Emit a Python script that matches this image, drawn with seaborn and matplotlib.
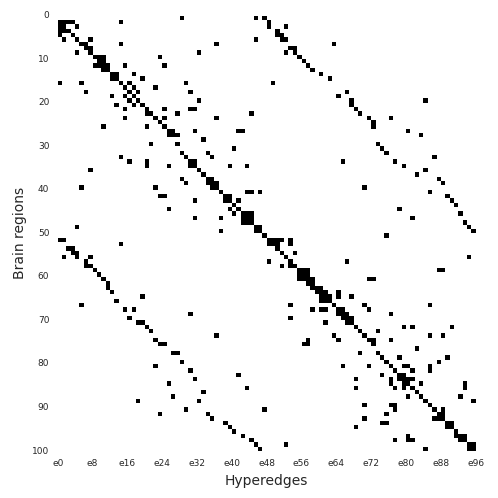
import numpy as np
import seaborn as sns
import matplotlib
matplotlib.use("Agg")
import matplotlib.pyplot as plt

# hyperedges touched by each brain region, ten regions per list
regions_00 = [[28, 45, 47], [0, 1, 2, 3, 14, 48], [0, 1, 4, 48, 52], [0, 1, 2, 50], [0, 3, 50, 51],
              [1, 4, 7, 45, 51, 52], [5, 6, 14, 36, 63], [6, 7, 53, 54], [4, 7, 32, 52, 54], [8, 9, 10, 23, 55]]
regions_10 = [[9, 10, 56], [8, 9, 10, 11, 15, 24, 57], [10, 11, 58], [12, 13, 17, 60], [12, 13, 19, 62],
              [0, 5, 14, 16, 29, 49], [15, 17, 22], [6, 16, 18, 30, 66], [12, 15, 17, 64], [16, 18, 32, 67, 84]]
regions_20 = [[13, 17, 19, 67], [15, 20, 24, 30, 31, 68], [20, 21, 27, 44, 69], [15, 22, 24, 36, 71, 76], [23, 72],
              [10, 20, 24, 72], [25, 26, 31, 41, 42, 80], [25, 26, 27, 83], [33], [21, 27, 73]]
regions_30 = [[40, 74], [28, 34, 75], [14, 29, 35, 86], [16, 20, 30, 31, 65, 77], [20, 25, 30, 31, 39, 43, 79],
              [7, 32, 84], [33, 82], [28, 34, 35, 87], [29, 34, 35, 36, 88], [5, 22, 35, 36, 70]]
regions_40 = [[37, 43, 44, 46, 85], [23, 24, 38, 39, 89], [31, 38, 39, 41, 90], [40, 91], [25, 39, 41, 78],
              [40, 42, 43, 44, 92], [31, 37, 42, 43, 44, 81], [42, 43, 44, 93], [4, 45, 46, 94], [37, 45, 46, 95]]
regions_50 = [[47, 75], [0, 1, 48, 49, 50, 51, 53], [14, 48, 49, 50, 53], [2, 3, 50], [3, 4, 51, 54],
              [1, 4, 7, 52, 94], [6, 48, 53, 66], [6, 7, 51, 53, 54], [8, 55, 56, 57, 87, 88], [9, 55, 56, 57]]
regions_60 = [[10, 55, 56, 57, 58, 71, 72], [11, 57, 58], [11, 58, 59, 60], [12, 59, 60, 61, 64], [19, 60, 61, 62, 64, 67],
              [13, 60, 61, 62], [5, 53, 63, 70, 85], [15, 17, 58, 60, 61, 64, 65, 71], [30, 64, 65, 66, 76], [16, 53, 65, 66, 67]]
regions_70 = [[18, 19, 61, 66, 67], [20, 68, 79, 81, 90], [21, 69, 73], [36, 63, 70, 85, 88], [22, 57, 64, 71, 72, 76],
              [23, 24, 56, 57, 72], [82], [26, 27, 69, 73], [74, 78, 89], [28, 75, 87]]
regions_80 = [[22, 65, 71, 76, 79, 80, 85], [30, 77, 81, 85], [41, 74, 78, 79], [31, 68, 76, 78, 79, 80, 81], [25, 76, 79, 80, 83, 93],
              [43, 68, 77, 79, 81, 93], [33, 82], [26, 80, 83, 92], [18, 32, 84, 95], [70, 76, 77, 85]]
regions_90 = [[29, 47, 77, 86, 88], [23, 34, 75, 87, 88], [35, 70, 86, 87, 88], [38, 74, 75, 89, 90], [39, 68, 89, 90],
              [40, 91], [42, 80, 91, 92, 93], [44, 77, 80, 81, 92, 93], [45, 52, 94, 95], [46, 84, 94, 95]]

all_regions = (regions_00 + regions_10 + regions_20 + regions_30 + regions_40
               + regions_50 + regions_60 + regions_70 + regions_80 + regions_90)

n_edges = 96
edge_ticks = list(range(0, 97, 8))
edge_labels = [f"e{i}" for i in edge_ticks]
region_ticks = list(range(0, 101, 10))

# incidence matrix
matrix = np.zeros((len(all_regions), n_edges))
for i, cols in enumerate(all_regions):
    matrix[i, cols] = 1

sns.set_theme(style="white")
fig = plt.figure(figsize=(4.98, 4.98), dpi=100)
ax = fig.add_axes([57.7 / 498, 47 / 498, 418 / 498, 435.5 / 498])
sns.heatmap(matrix, cmap=["white", "black"], cbar=False, ax=ax, vmin=0, vmax=1)

ax.set_xticks(edge_ticks)
ax.set_xticklabels(edge_labels, rotation=0, fontsize=6.5)
ax.set_yticks(region_ticks)
ax.set_yticklabels(region_ticks, rotation=0, fontsize=6.5)
ax.tick_params(length=0, pad=6)
ax.set_xlabel("Hyperedges", fontsize=10, labelpad=4)
ax.set_ylabel("Brain regions", fontsize=10, labelpad=4)

fig.savefig("out.png", dpi=100)
